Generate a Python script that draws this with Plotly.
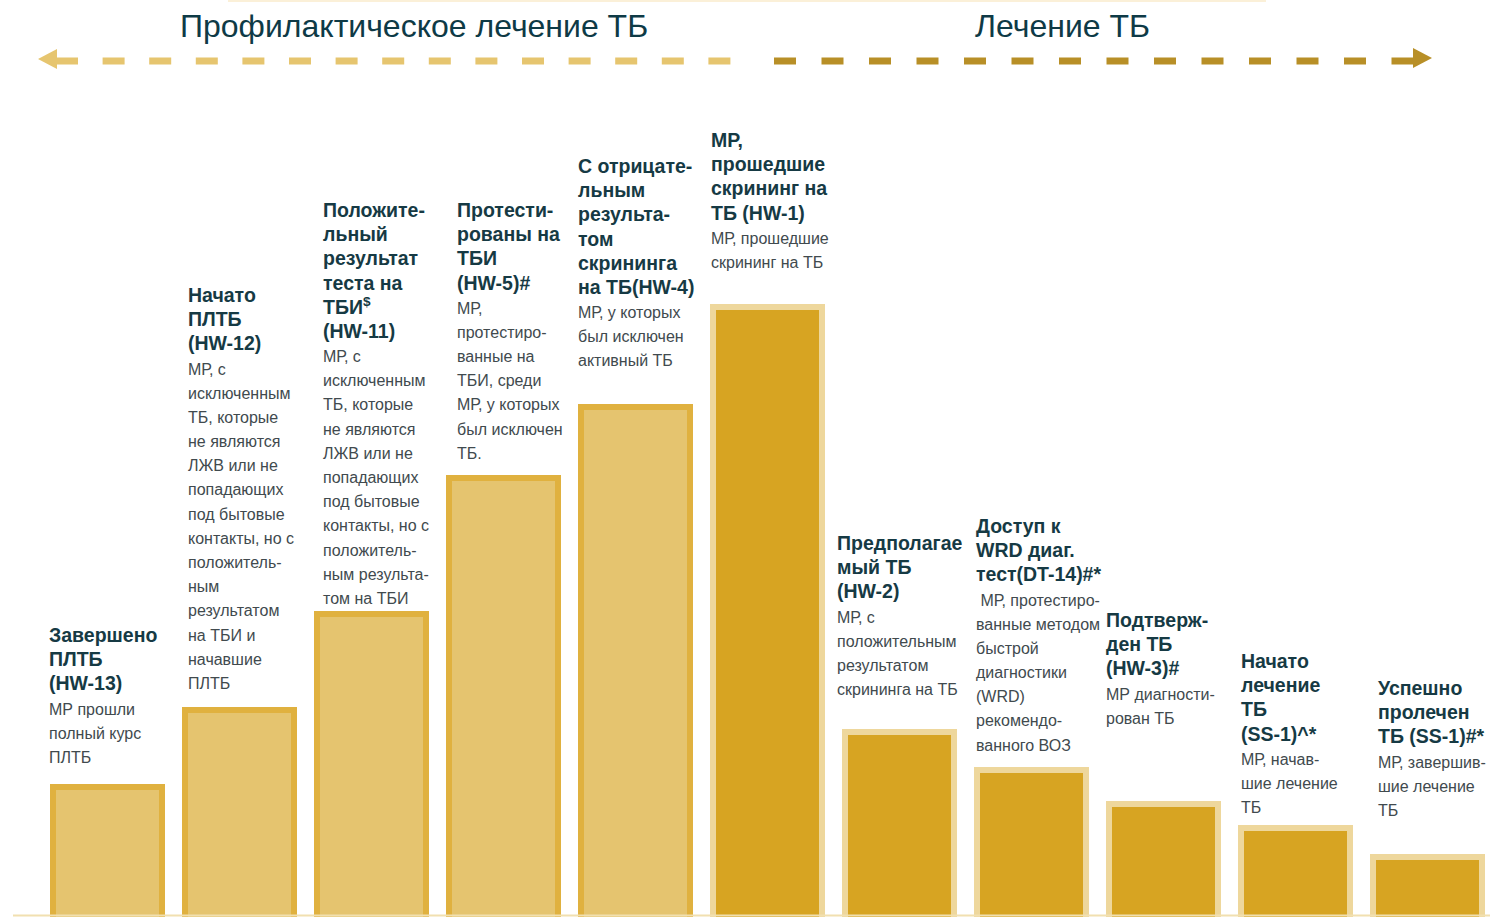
import plotly.graph_objects as go

# ---- data -------------------------------------------------------------
categories = ["HW-13", "HW-12", "HW-11", "HW-5", "HW-4", "HW-1",
              "HW-2", "DT-14", "HW-3", "SS-1 start", "SS-1 success"]
values = [134, 211, 307, 443, 514, 614, 189, 151, 117, 93, 64]
phase = ["prev"] * 5 + ["treat"] * 6

headings = [
    ["Завершено", "ПЛТБ", "(HW-13)"],
    ["Начато", "ПЛТБ", "(HW-12)"],
    ["Положите-", "льный", "результат", "теста на", "ТБИ<sup>$</sup>", "(HW-11)"],
    ["Протести-", "рованы на", "ТБИ", "(HW-5)#"],
    ["С отрицате-", "льным", "результа-", "том", "скрининга", "на ТБ(HW-4)"],
    ["МР,", "прошедшие", "скрининг на", "ТБ (HW-1)"],
    ["Предполагае", "мый ТБ", "(HW-2)"],
    ["Доступ к", "WRD диаг.", "тест(DT-14)#*"],
    ["Подтверж-", "ден ТБ", "(HW-3)#"],
    ["Начато", "лечение", "ТБ", "(SS-1)^*"],
    ["Успешно", "пролечен", "ТБ (SS-1)#*"],
]
descriptions = [
    ["МР прошли", "полный курс", "ПЛТБ"],
    ["МР, с", "исключенным", "ТБ, которые", "не являются", "ЛЖВ или не",
     "попадающих", "под бытовые", "контакты, но с", "положитель-", "ным",
     "результатом", "на ТБИ и", "начавшие", "ПЛТБ"],
    ["МР, с", "исключенным", "ТБ, которые", "не являются", "ЛЖВ или не",
     "попадающих", "под бытовые", "контакты, но с", "положитель-",
     "ным результа-", "том на ТБИ"],
    ["МР,", "протестиро-", "ванные на", "ТБИ, среди", "МР, у которых",
     "был исключен", "ТБ."],
    ["МР, у которых", "был исключен", "активный ТБ"],
    ["МР, прошедшие", "скрининг на ТБ"],
    ["МР, с", "положительным", "результатом", "скрининга на ТБ"],
    ["\u00a0МР, протестиро-", "ванные методом", "быстрой", "диагностики",
     "(WRD)", "рекомендо-", "ванного ВОЗ"],
    ["МР диагности-", "рован ТБ"],
    ["МР, начав-", "шие лечение", "ТБ"],
    ["МР, завершив-", "шие лечение", "ТБ"],
]
phase_titles = ["Профилактическое лечение ТБ", "Лечение ТБ"]

# ---- layout / style ---------------------------------------------------
W, H = 1490, 917
PITCH = 132.0                 # px between bar centres
FIRST_CENTER = 107.5          # px of the first bar centre
BAR_PX = 109.0                # fill width; outline adds 3 px on each side
X0 = -FIRST_CENTER / PITCH
X1 = X0 + W / PITCH
BASE_PX = 921                 # zero line sits just below the bottom edge

fill = {"prev": "#E5C46F", "treat": "#D7A422"}
edge = {"prev": "#E0B13F", "treat": "#EED79C"}

label_left_px = [49, 188, 323, 457, 578, 711, 837, 976, 1106, 1241, 1378]
label_top_px = [624, 284, 199, 199, 155, 129, 532, 515, 609, 650, 677]

HEAD_COLOR = "#163A44"
BODY_COLOR = "#414A4E"
FONT = "Liberation Sans, Arial, sans-serif"


def px_x(p):
    return p / W


def px_y(p):
    return (H - p) / H


fig = go.Figure(go.Bar(
    x=categories,
    y=values,
    width=BAR_PX / PITCH,
    marker=dict(color=[fill[p] for p in phase],
                line=dict(color=[edge[p] for p in phase], width=6)),
    hoverinfo="skip",
))

annotations = []
for head, desc, lx, ty in zip(headings, descriptions, label_left_px, label_top_px):
    lines = ["<span style='font-size:19.5px'><b>%s</b></span>" % h for h in head]
    lines += ["<span style='font-size:16px;color:%s'>%s</span>" % (BODY_COLOR, d)
              for d in desc]
    annotations.append(dict(
        text="<br>".join(lines), xref="paper", yref="paper",
        x=px_x(lx), y=px_y(ty), xanchor="left", yanchor="top",
        align="left", showarrow=False, borderpad=0, borderwidth=0,
        font=dict(family=FONT, size=18.6, color=HEAD_COLOR),
    ))

for title, cx in zip(phase_titles, [414, 1062]):
    annotations.append(dict(
        text=title, xref="paper", yref="paper", x=px_x(cx), y=px_y(26),
        xanchor="center", yanchor="middle", showarrow=False,
        font=dict(family=FONT, size=32, color="#0E3A46"),
    ))

LEFT_ARROW = "#E6C56F"
RIGHT_ARROW = "#B88F27"
shapes = [
    # faint top rule and baseline
    dict(type="line", xref="paper", yref="paper", x0=px_x(228), x1=px_x(1266),
         y0=px_y(1), y1=px_y(1), line=dict(color="#FBF0D8", width=2)),
    dict(type="line", xref="paper", yref="paper", x0=px_x(13), x1=1,
         y0=px_y(915.5), y1=px_y(915.5), line=dict(color="#F1E0B0", width=2)),
    # dashed phase arrows
    dict(type="line", xref="paper", yref="paper", x0=px_x(56), x1=px_x(735),
         y0=px_y(61), y1=px_y(61),
         line=dict(color=LEFT_ARROW, width=7, dash="22px,24.6px")),
    dict(type="path", xref="paper", yref="paper",
         path="M %f %f L %f %f L %f %f Z" % (px_x(38), px_y(59), px_x(57), px_y(49),
                                            px_x(57), px_y(69)),
         fillcolor=LEFT_ARROW, line=dict(width=0)),
    dict(type="line", xref="paper", yref="paper", x0=px_x(774), x1=px_x(1415),
         y0=px_y(61), y1=px_y(61),
         line=dict(color=RIGHT_ARROW, width=7, dash="22px,25.5px")),
    dict(type="path", xref="paper", yref="paper",
         path="M %f %f L %f %f L %f %f Z" % (px_x(1432), px_y(58), px_x(1413), px_y(48),
                                            px_x(1413), px_y(68)),
         fillcolor=RIGHT_ARROW, line=dict(width=0)),
]

fig.update_layout(
    width=W, height=H,
    margin=dict(l=0, r=0, t=0, b=0),
    paper_bgcolor="white", plot_bgcolor="white",
    showlegend=False,
    xaxis=dict(range=[X0, X1], visible=False, fixedrange=True),
    yaxis=dict(range=[BASE_PX - H, BASE_PX], visible=False, fixedrange=True),
    annotations=annotations,
    shapes=shapes,
    font=dict(family=FONT),
)

fig.write_html("out.html", config={"displayModeBar": False})
